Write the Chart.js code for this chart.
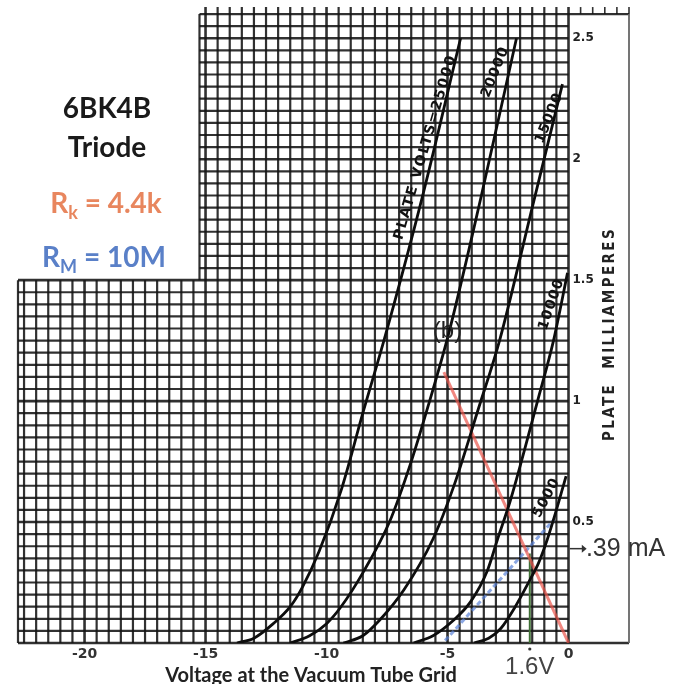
<!DOCTYPE html>
<html>
<head>
<meta charset="utf-8">
<script src="https://cdn.jsdelivr.net/npm/chart.js@4.4.0/dist/chart.umd.min.js"></script>
<style>
  html, body { margin: 0; padding: 0; background: #fff; }
  #wrap { width: 681px; height: 684px; }
</style>
</head>
<body>
<div id="wrap"><canvas id="myChart" width="681" height="684"></canvas></div>
<script>
// grid volts / plate mA
const grid25000 = [-13.7, -13.0, -12.2, -11.5, -11.0, -10.3, -9.4, -8.5, -7.6, -6.0, -4.46];
const plate25000 = [0, 0.02, 0.08, 0.15, 0.23, 0.38, 0.63, 0.95, 1.26, 1.86, 2.5];

const grid20000 = [-11.5, -10.7, -10.0, -9.4, -8.5, -7.4, -6.5, -5.8, -4.95, -3.6, -2.15];
const plate20000 = [0, 0.03, 0.08, 0.15, 0.29, 0.5, 0.75, 0.98, 1.28, 1.85, 2.5];

const grid15000 = [-9.3, -8.5, -7.8, -6.8, -5.6, -4.7, -3.75, -2.85, -1.5, -0.25];
const plate15000 = [0, 0.03, 0.095, 0.22, 0.43, 0.66, 0.96, 1.25, 1.8, 2.31];

const grid10000 = [-6.4, -5.6, -4.8, -4.05, -3.35, -2.93, -2.4, -1.28, -0.62, -0.04];
const plate10000 = [0, 0.03, 0.09, 0.17, 0.3, 0.43, 0.59, 1.0, 1.25, 1.53];

const grid5000 = [-3.9, -3.3, -2.8, -2.2, -1.6, -1.24, -0.87, -0.5, -0.1];
const plate5000 = [0, 0.02, 0.06, 0.15, 0.26, 0.33, 0.43, 0.55, 0.69];

// load lines
const gridRk = [-5.15, 0];
const plateRk = [1.12, 0];
const gridRm = [-5.1, -0.6];
const plateRm = [0.01, 0.51];
const gridOp = [-1.6, -1.6];
const plateOp = [0, 0.37];

const opVolts = -1.6;
const opAmps = 0.39;

const xTickValues = [-20, -15, -10, -5, 0];
const xTickLabels = ['-20', '-15', '-10', '-5', '0'];
const yTickValues = [0.5, 1, 1.5, 2, 2.5];
const yTickLabels = ['0.5', '1', '1.5', '2', '2.5'];

// graph paper outline
const paperLeftV = -22.75;
const paperStepV = -15.25;
const paperStepI = 1.5;
const paperTopI = 2.6;
const stripRightV = 2.5;

function pts(xs, ys) {
  return xs.map(function (v, i) { return {x: v, y: ys[i]}; });
}

function curve(label, xs, ys) {
  return {
    label: label,
    data: pts(xs, ys),
    showLine: true,
    borderColor: '#0d0d0d',
    borderWidth: 2.8,
    pointRadius: 0,
    cubicInterpolationMode: 'monotone'
  };
}

const paperGrid = {
  id: 'paperGrid',
  beforeDatasetsDraw(chart) {
    const ctx = chart.ctx, xs = chart.scales.x, ys = chart.scales.y;
    const X = function (v) { return xs.getPixelForValue(v); };
    const Y = function (i) { return ys.getPixelForValue(i); };
    function line(x1, y1, x2, y2, w) {
      ctx.lineWidth = w;
      ctx.beginPath(); ctx.moveTo(x1, y1); ctx.lineTo(x2, y2); ctx.stroke();
    }
    ctx.save();
    ctx.strokeStyle = 'rgba(20,20,20,0.88)';
    // verticals every half volt
    for (let k = 0; k <= 45; k++) {
      const v = -k * 0.5;
      const w = (k % 10 === 0) ? 2.6 : 2.2;
      if (v > paperStepV) line(X(v), Y(0), X(v), Y(paperTopI) - 7, w);
      else line(X(v), Y(0), X(v), Y(paperStepI), w);
    }
    line(X(paperLeftV), Y(0), X(paperLeftV), Y(paperStepI), 2.2);
    line(X(paperStepV), Y(paperStepI), X(paperStepV), Y(paperTopI), 2.2);
    // horizontals every 0.05 mA
    for (let k = 0; k <= 52; k++) {
      const i = k * 0.05;
      const w = (k % 10 === 0) ? 2.6 : 2.2;
      const left = (k <= 30) ? paperLeftV : paperStepV;
      const right = (k === 0 || k === 52) ? stripRightV : 0;
      line(X(left), Y(i), X(right), Y(i), w);
    }
    // ticks over the label strip
    for (let k = 1; k <= 5; k++) {
      line(X(k * 0.5), Y(paperTopI), X(k * 0.5), Y(paperTopI) - 7, 1.6);
    }
    ctx.strokeStyle = '#666';
    line(X(stripRightV), Y(0), X(stripRightV), Y(paperTopI), 1.8);
    ctx.restore();
  }
};

function subText(ctx, base, sub, rest, cx, by, size, color) {
  const big = 'bold ' + size + 'px Lato';
  const small = 'bold ' + Math.round(size * 0.65) + 'px Lato';
  ctx.font = big;
  const wb = ctx.measureText(base).width;
  const wr = ctx.measureText(rest).width;
  ctx.font = small;
  const ws = ctx.measureText(sub).width;
  const x0 = cx - (wb + ws + wr) / 2;
  ctx.fillStyle = color;
  ctx.textAlign = 'left';
  ctx.textBaseline = 'alphabetic';
  ctx.font = big; ctx.fillText(base, x0, by);
  ctx.font = small; ctx.fillText(sub, x0 + wb, by + size * 0.22);
  ctx.font = big; ctx.fillText(rest, x0 + wb + ws, by);
}

const notes = {
  id: 'notes',
  afterDatasetsDraw(chart) {
    const ctx = chart.ctx, xs = chart.scales.x, ys = chart.scales.y;
    const X = function (v) { return xs.getPixelForValue(v); };
    const Y = function (i) { return ys.getPixelForValue(i); };
    ctx.save();

    // labels along the curves
    function along(text, v, i, deg, size, sp) {
      ctx.save();
      ctx.translate(X(v), Y(i));
      ctx.rotate(deg * Math.PI / 180);
      ctx.font = 'bold ' + size + 'px "DejaVu Sans"';
      ctx.letterSpacing = sp + 'px';
      ctx.fillStyle = '#111';
      ctx.textAlign = 'center';
      ctx.textBaseline = 'middle';
      ctx.fillText(text, 0, 0);
      ctx.restore();
    }
    along('PLATE VOLTS=25000', -5.91, 2.05, -73.7, 14, 1.8);
    along('20000', -3.02, 2.36, -68, 14, 1);
    along('15000', -0.79, 2.17, -68, 14, 1);
    along('10000', -0.70, 1.40, -71, 14, 1);
    along('5000', -0.91, 0.60, -62, 14, 1);

    // y tick labels in the strip
    ctx.font = 'bold 12px "DejaVu Sans"';
    ctx.fillStyle = '#222';
    ctx.textAlign = 'left';
    ctx.textBaseline = 'middle';
    yTickValues.forEach(function (val, n) {
      ctx.fillText(yTickLabels[n], X(0) + 4, Y(val));
    });

    ctx.save();
    ctx.translate(610, 334);
    ctx.rotate(-Math.PI / 2);
    ctx.font = 'bold 15px "DejaVu Sans Condensed", "DejaVu Sans"';
    ctx.letterSpacing = '2.4px';
    ctx.textAlign = 'center';
    ctx.fillText('PLATE  MILLIAMPERES', 0, 0);
    ctx.restore();

    // (b) marker
    ctx.font = '24px "Liberation Sans"';
    ctx.fillStyle = '#222';
    ctx.textAlign = 'center';
    ctx.fillText('(b)', X(-5.0), Y(1.29));

    // operating point arrow
    const ay = Y(opAmps);
    ctx.strokeStyle = '#333';
    ctx.fillStyle = '#333';
    ctx.lineWidth = 1.5;
    ctx.beginPath(); ctx.moveTo(X(0.05), ay); ctx.lineTo(X(0.62), ay); ctx.stroke();
    ctx.beginPath();
    ctx.moveTo(X(0.75), ay); ctx.lineTo(X(0.55), ay - 4); ctx.lineTo(X(0.55), ay + 4);
    ctx.closePath(); ctx.fill();
    ctx.font = '25px "Liberation Sans"';
    ctx.textAlign = 'left';
    ctx.fillText('.39 mA', X(0.72), ay);

    ctx.beginPath(); ctx.arc(X(opVolts), 649, 1.6, 0, Math.PI * 2); ctx.fill();
    ctx.font = '24px "Liberation Sans"';
    ctx.fillStyle = '#444';
    ctx.textAlign = 'center';
    ctx.textBaseline = 'alphabetic';
    ctx.fillText('1.6V', X(opVolts), 674);

    // axis title
    ctx.font = 'bold 20px Lato';
    ctx.fillStyle = '#222';
    ctx.fillText('Voltage at the Vacuum Tube Grid', 311, 682);

    // left text block
    ctx.font = 'bold 28px Lato';
    ctx.fillStyle = '#1a1a1a';
    ctx.fillText('6BK4B', 107, 118);
    ctx.fillText('Triode', 107, 157);
    subText(ctx, 'R', 'k', ' = 4.4k', 106, 213, 28, '#e8865e');
    subText(ctx, 'R', 'M', ' = 10M', 104, 267, 28, '#5a80c8');

    ctx.restore();
  }
};

const data = {
  datasets: [
    curve('25000', grid25000, plate25000),
    curve('20000', grid20000, plate20000),
    curve('15000', grid15000, plate15000),
    curve('10000', grid10000, plate10000),
    curve('5000', grid5000, plate5000),
    {
      label: 'Rk', data: pts(gridRk, plateRk), showLine: true,
      borderColor: 'rgba(235,85,75,0.7)', borderWidth: 3, pointRadius: 0
    },
    {
      label: 'Rm', data: pts(gridRm, plateRm), showLine: true,
      borderColor: 'rgba(90,130,215,0.7)', borderWidth: 3, borderDash: [5, 3], pointRadius: 0
    },
    {
      label: 'op', data: pts(gridOp, plateOp), showLine: true,
      borderColor: '#3f6f35', borderWidth: 2, pointRadius: 0
    }
  ]
};

const config = {
  type: 'scatter',
  data: data,
  options: {
    responsive: false,
    animation: false,
    devicePixelRatio: 1,
    layout: { padding: { left: 18, right: 52, top: 8, bottom: 0 } },
    plugins: { legend: { display: false }, tooltip: { enabled: false } },
    scales: {
      x: {
        type: 'linear',
        min: paperLeftV,
        max: stripRightV,
        grid: { display: false, drawTicks: false },
        border: { display: false },
        afterFit: function (scale) { scale.height = 41; },
        afterBuildTicks: function (scale) {
          scale.ticks = xTickValues.map(function (v) { return {value: v}; });
        },
        ticks: {
          padding: 3,
          color: '#333',
          font: { family: 'DejaVu Sans', size: 14, weight: 'bold' },
          callback: function (value) {
            const n = xTickValues.indexOf(value);
            return n >= 0 ? xTickLabels[n] : '';
          }
        }
      },
      y: {
        type: 'linear',
        display: false,
        min: 0,
        max: 2.625
      }
    }
  },
  plugins: [paperGrid, notes]
};

const myChart = new Chart(document.getElementById('myChart'), config);
</script>
</body>
</html>
